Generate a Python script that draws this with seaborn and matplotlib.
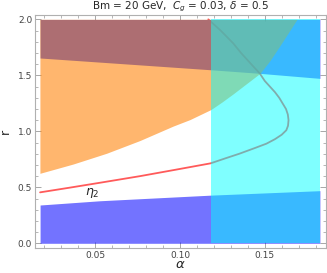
import seaborn as sns
import matplotlib.pyplot as plt
from matplotlib.ticker import MultipleLocator

# region boundaries (alpha, r)
alpha_top = [0.0175, 0.118, 0.147, 0.1825]
r_top = [1.655, 1.55, 1.518, 1.473]

alpha_arc = [0.0174, 0.0370, 0.0567, 0.0764, 0.0960, 0.1059, 0.1183, 0.1248, 0.1314,
             0.1389, 0.1472, 0.1531, 0.1590, 0.1649, 0.1690]
r_arc = [0.625, 0.708, 0.804, 0.918, 1.047, 1.105, 1.195, 1.262, 1.335,
         1.422, 1.518, 1.632, 1.766, 1.904, 2.0]

alpha_low = [0.0175, 0.0529, 0.118, 0.1825]
r_low = [0.342, 0.38, 0.43, 0.47]

alpha_split = [0.118, 0.1825]
r_max = 2.0

# eta_2 curve
alpha_eta = [0.0175, 0.035, 0.0529, 0.0765, 0.097, 0.118, 0.127, 0.135, 0.144, 0.151,
             0.156, 0.160, 0.1627, 0.1637, 0.1640, 0.1636, 0.1625, 0.1605, 0.1585,
             0.1560, 0.1530, 0.1500, 0.1470, 0.1420, 0.1360, 0.1314, 0.1240, 0.1167]
r_eta = [0.455, 0.497, 0.541, 0.60, 0.656, 0.714, 0.76, 0.80, 0.85, 0.89,
         0.93, 0.97, 1.01, 1.05, 1.10, 1.15, 1.20, 1.25, 1.30,
         1.35, 1.40, 1.45, 1.518, 1.60, 1.70, 1.786, 1.90, 2.0]

sns.set_style("ticks")
plt.rcParams['font.family'] = ['DejaVu Sans']

fig = plt.figure(figsize=(3.27, 2.73), dpi=100)
ax = fig.add_axes([35 / 327, 25 / 273, 291 / 327, 233 / 273])

# line goes under the shaded regions
sns.lineplot(x=alpha_eta, y=r_eta, sort=False, estimator=None, color='#ff5a5a',
             linewidth=1.3, ax=ax, zorder=1)

ax.fill_between(alpha_low, 0, r_low, color=(0, 0, 1), alpha=0.55, lw=0, zorder=2)
ax.fill_between(alpha_top[1:], r_top[1:], r_max, color=(0, 0, 1), alpha=0.55, lw=0, zorder=2)
ax.fill_between(alpha_arc, r_arc, r_max, color=(1, 0.5, 0), alpha=0.57, lw=0, zorder=3)
ax.fill_between(alpha_split, 0, r_max, color=(0, 1, 1), alpha=0.5, lw=0, zorder=4)
ax.fill_between(alpha_top[:2], r_top[:2], r_max, color='#ad6e72', lw=0, zorder=5)

ax.text(0.048, 0.45, r'$\eta_2$', fontsize=9, ha='center', va='center', zorder=6)

ax.set_xlim(0.0145, 0.1861)
ax.set_ylim(-0.042, 2.039)
ax.xaxis.set_major_locator(MultipleLocator(0.05))
ax.xaxis.set_minor_locator(MultipleLocator(0.01))
ax.yaxis.set_major_locator(MultipleLocator(0.5))
ax.yaxis.set_minor_locator(MultipleLocator(0.1))
ax.xaxis.set_major_formatter(lambda v, p: f'{v:.2f}')
ax.yaxis.set_major_formatter(lambda v, p: f'{v:.1f}')

for s in ax.spines.values():
    s.set_visible(True)
    s.set_color('#b0b0b0')
    s.set_linewidth(0.8)
ax.tick_params(which='both', direction='in', top=True, right=True, color='#999999',
               labelsize=6.5, labelcolor='#444444', pad=2)
ax.tick_params(which='major', length=4, width=0.6)
ax.tick_params(which='minor', length=2, width=0.5)

ax.set_xlabel(r'$\alpha$', fontsize=9.5, labelpad=-1)
ax.set_ylabel('r', fontsize=9, labelpad=4)
ax.set_title(r'Bm = 20 GeV,  $C_g$ = 0.03, $\delta$ = 0.5', fontsize=7.5, pad=4)

fig.savefig('out.png', dpi=100)
